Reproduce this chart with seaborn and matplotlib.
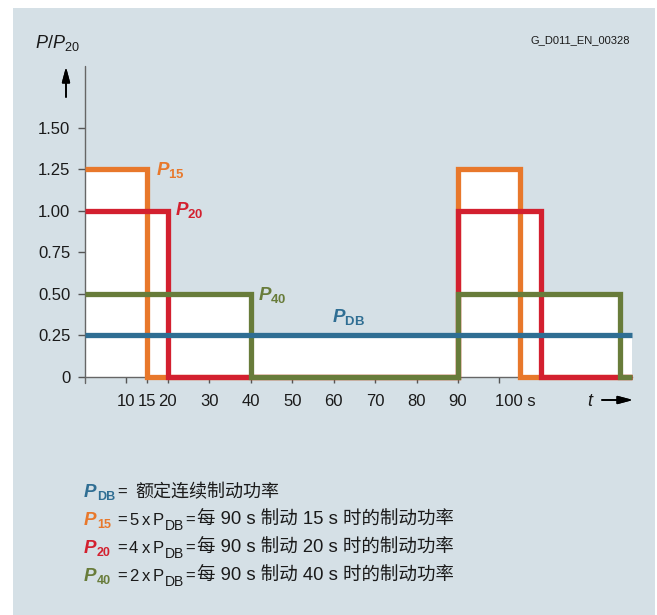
"""Braking power duty cycles P15 / P20 / P40 vs continuous braking power PDB."""

import matplotlib
matplotlib.use("Agg")
import matplotlib.pyplot as plt
from matplotlib.patches import Rectangle
import seaborn as sns

# --- data ---
time_s = [0, 15, 20, 40, 90, 105, 110, 129, 132]
p15 = [1.25, 0, 0, 0, 1.25, 0, 0, 0, 0]
p20 = [1.00, 1.00, 0, 0, 1.00, 1.00, 0, 0, 0]
p40 = [0.50, 0.50, 0.50, 0, 0.50, 0.50, 0.50, 0, 0]
pdb = [0.25, 0.25, 0.25, 0.25, 0.25, 0.25, 0.25, 0.25, 0.25]

y_ticks = [0, 0.25, 0.50, 0.75, 1.00, 1.25, 1.50]
y_ticklabels = ["0", "0.25", "0.50", "0.75", "1.00", "1.25", "1.50"]
x_ticks = [10, 15, 20, 30, 40, 50, 60, 70, 80, 90, 100]
x_ticklabels = ["10", "15", "20", "30", "40", "50", "60", "70", "80", "90", ""]

ORANGE = "#e8782b"
RED = "#d3202f"
GREEN = "#687c3a"
BLUE = "#2f6e93"
BG = "#d5e0e6"
TXT = "#1a1a1a"

series = [("15", p15, ORANGE), ("20", p20, RED), ("40", p40, GREEN), ("DB", pdb, BLUE)]

legend_rows = [
    ("DB", BLUE, None, "额定连续制动功率"),
    ("15", ORANGE, "5", "每 90 s 制动 15 s 时的制动功率"),
    ("20", RED, "4", "每 90 s 制动 20 s 时的制动功率"),
    ("40", GREEN, "2", "每 90 s 制动 40 s 时的制动功率"),
]

W, H = 657, 615


def px(x, y):
    """Figure pixel position (from top-left) to figure fraction."""
    return x / W, 1 - y / H


sns.set_style("white")
plt.rcParams["font.family"] = ["Liberation Sans", "Noto Sans CJK SC", "DejaVu Sans"]
plt.rcParams["mathtext.fontset"] = "custom"
plt.rcParams["mathtext.rm"] = "Liberation Sans"
plt.rcParams["mathtext.it"] = "Liberation Sans:italic"
plt.rcParams["mathtext.bf"] = "Liberation Sans:bold"
plt.rcParams["mathtext.bfit"] = "Liberation Sans:italic:bold"

fig = plt.figure(figsize=(W / 100, H / 100), dpi=100, facecolor="white")
fig.add_artist(Rectangle((13 / W, 0), (655 - 13) / W, (H - 8) / H,
                         transform=fig.transFigure, facecolor=BG,
                         edgecolor="none", zorder=-10))

ax = fig.add_axes([85 / W, 1 - 376.7 / H, 547 / W, 310.7 / H])
ax.patch.set_visible(False)

# white area under the envelope of all curves
envelope = [max(v) for v in zip(p15, p20, p40, pdb)]
ax.fill_between(time_s, 0, envelope, step="post", color="white", lw=0, zorder=1)

for z, (name, vals, col) in enumerate(series):
    sns.lineplot(x=time_s, y=vals, ax=ax, color=col, linewidth=3.8,
                 drawstyle="steps-post", estimator=None, sort=False,
                 legend=False, clip_on=False, zorder=3 + z,
                 solid_joinstyle="miter", solid_capstyle="butt")

ax.set_xlim(0, 132)
ax.set_ylim(0, 1.8717)
ax.set_xlabel("")
ax.set_ylabel("")

for s in ["top", "right", "left"]:
    ax.spines[s].set_visible(False)
ax.spines["bottom"].set_color("#666666")
ax.spines["bottom"].set_linewidth(1.0)
ax.axvline(0, ymin=-0.02, ymax=1, color="#666666", lw=1.0, clip_on=False, zorder=2)

ax.set_yticks(y_ticks)
ax.set_yticklabels(y_ticklabels)
ax.set_xticks(x_ticks)
ax.set_xticklabels(x_ticklabels)
ax.tick_params(axis="y", length=5, width=1, color="#555555", pad=5.5,
               labelsize=12, labelcolor=TXT, left=True)
ax.tick_params(axis="x", length=4.5, width=1, color="#555555", pad=8,
               labelsize=12, labelcolor=TXT, bottom=True)
ax.annotate("100 s", xy=(100, 0), xytext=(-3, -12.8), textcoords="offset points",
            ha="left", va="top", fontsize=12, color=TXT, annotation_clip=False)

# curve labels
label_pos = {"15": (17.1, 1.215), "20": (21.7, 0.977), "40": (41.8, 0.462), "DB": (59.6, 0.331)}
for name, vals, col in series:
    x, y = label_pos[name]
    ax.text(x, y, r"$\mathbfit{P}_{\mathbf{%s}}$" % name, color=col,
            fontsize=13.5, ha="left", va="baseline")

# axis titles and arrows
fig.text(*px(35, 47.7), r"$P/P_{\mathrm{20}}$", fontsize=13, color=TXT, va="baseline")
fig.text(*px(587, 405.5), "t", fontsize=13, style="italic", color=TXT, va="baseline")
fig.text(*px(630, 43), "G_D011_EN_00328", fontsize=8, color=TXT, ha="right", va="baseline")
arrow = dict(arrowstyle="-|>,head_length=0.6,head_width=0.16", color="black",
             lw=1.2, mutation_scale=15, shrinkA=0, shrinkB=0)
fig.add_artist(plt.annotate("", xy=px(66, 67), xytext=px(66, 97),
                            xycoords="figure fraction", arrowprops=arrow))
fig.add_artist(plt.annotate("", xy=px(633, 400), xytext=px(602, 400),
                            xycoords="figure fraction", arrowprops=arrow))

# explanation block
for i, (sub, col, factor, desc) in enumerate(legend_rows):
    base = 497 + 28 * i
    fig.text(*px(84, base), "P", fontsize=13.5, weight="bold", style="italic",
             color=col, va="baseline")
    fig.text(*px(97, base + 3), sub, fontsize=9, weight="bold",
             color=col, va="baseline")
    if factor is None:
        fig.text(*px(117, base), "=", fontsize=12, color=TXT, va="baseline")
        fig.text(*px(135, base), desc, fontsize=13, color=TXT, va="baseline")
    else:
        fig.text(*px(117, base), "=", fontsize=12, color=TXT, va="baseline")
        fig.text(*px(129, base), factor, fontsize=12, color=TXT, va="baseline")
        fig.text(*px(141.5, base), "x", fontsize=12, color=TXT, va="baseline")
        fig.text(*px(153, base), "P", fontsize=12, color=TXT, va="baseline")
        fig.text(*px(165, base + 4.5), "DB", fontsize=10, color=TXT, va="baseline")
        fig.text(*px(185, base), "=", fontsize=12, color=TXT, va="baseline")
        fig.text(*px(197, base), desc, fontsize=13.3, color=TXT, va="baseline")

fig.savefig("out.png", dpi=100)
